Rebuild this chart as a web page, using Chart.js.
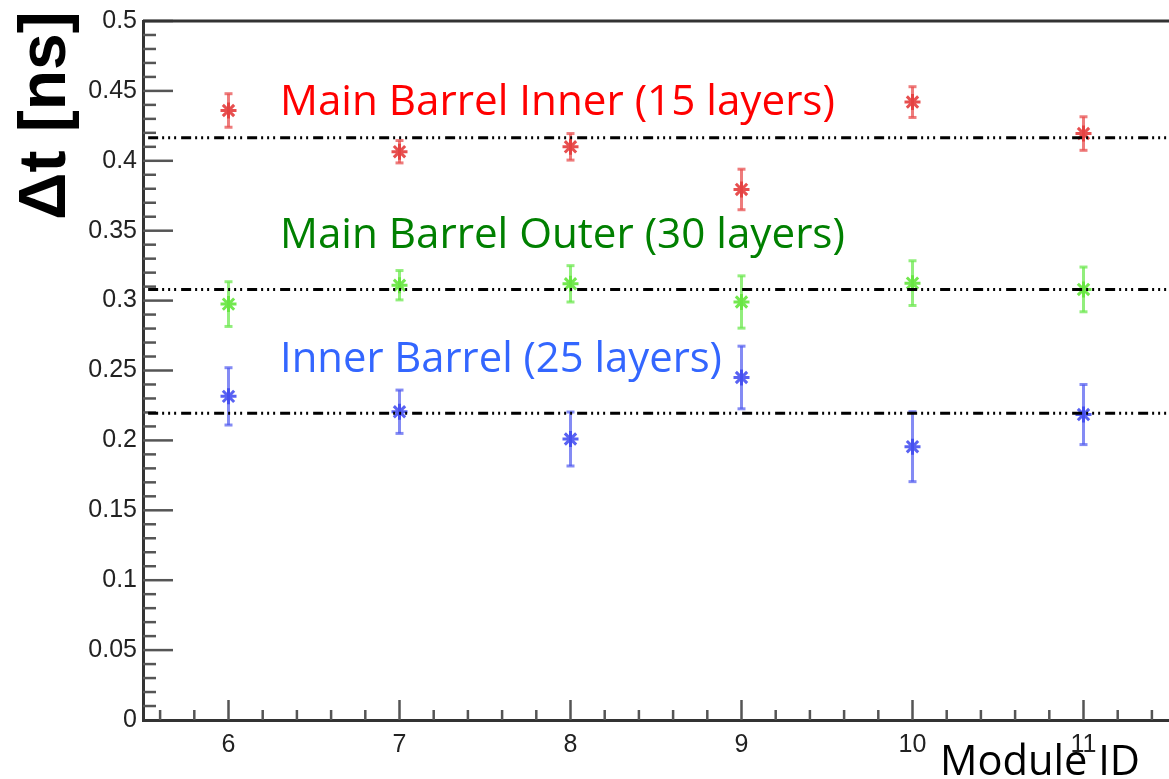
<!DOCTYPE html>
<html>
<head>
<meta charset="utf-8">
<script src="https://cdn.jsdelivr.net/npm/chart.js@4.4.1/dist/chart.umd.min.js"></script>
<style>
  html, body { margin: 0; padding: 0; background: #fff; overflow: hidden; }
  #wrap { width: 1169px; height: 779px; position: relative; }
</style>
</head>
<body>
<div id="wrap"><canvas id="chart"></canvas></div>
<script>
// module ids on the x axis
const moduleIds = [6, 7, 8, 9, 10, 11];

// Δt per module [ns] and its error
const mainInner = [0.436, 0.4065, 0.410, 0.3795, 0.442, 0.4195];
const mainInnerErr = [0.012, 0.008, 0.0095, 0.0145, 0.011, 0.012];
const mainOuter = [0.2975, 0.311, 0.312, 0.299, 0.3125, 0.308];
const mainOuterErr = [0.016, 0.0105, 0.013, 0.0187, 0.016, 0.016];
const innerBarrel = [0.2315, 0.2205, 0.201, 0.245, 0.1955, 0.2185];
const innerBarrelErr = [0.0205, 0.0155, 0.0193, 0.0224, 0.025, 0.0215];

// mean values (dash-dot lines)
const meanLines = [0.4165, 0.308, 0.2195];

const xTicks = [6, 7, 8, 9, 10, 11];
const yTicks = [0, 0.05, 0.1, 0.15, 0.2, 0.25, 0.3, 0.35, 0.4, 0.45, 0.5];

const seriesNames = ['Main Barrel Inner (15 layers)', 'Main Barrel Outer (30 layers)', 'Inner Barrel (25 layers)'];

const X_MIN = 5.5, X_MAX = 11.5;

function pts(vals) {
    return moduleIds.map((x, i) => ({ x, y: vals[i] }));
}

function meanLine(v, i) {
    return {
        type: 'line',
        label: 'mean ' + i,
        data: [{ x: X_MIN + 0.03, y: v }, { x: X_MAX, y: v }],
        borderColor: '#000',
        borderWidth: 3,
        borderDash: [10, 4, 2, 4, 2, 4, 2, 5],
        pointRadius: 0,
        fill: false
    };
}

function markers(label, vals, errs, color, barColor) {
    return {
        type: 'scatter',
        label,
        data: pts(vals),
        errors: errs,
        barColor,
        pointStyle: 'star',
        pointRadius: 8,
        pointBorderWidth: 3,
        borderColor: color,
        backgroundColor: color
    };
}

function line(ctx, x1, y1, x2, y2) {
    ctx.beginPath();
    ctx.moveTo(x1, y1);
    ctx.lineTo(x2, y2);
    ctx.stroke();
}

function fitText(ctx, text, family, weight, width) {
    ctx.font = `${weight} 40px "${family}"`;
    const size = 40 * width / ctx.measureText(text).width;
    ctx.font = `${weight} ${size.toFixed(2)}px "${family}"`;
}

const frame = {
    id: 'frame',
    beforeDatasetsDraw(chart) {
        const { ctx, chartArea: a, scales: { x, y } } = chart;
        ctx.save();
        ctx.strokeStyle = '#555';
        ctx.lineWidth = 2.5;
        // inward ticks on y
        for (let k = 1; k <= 50; k++) {
            const py = y.getPixelForValue(k * 0.01);
            line(ctx, a.left, py, a.left + (k % 5 === 0 ? 30 : 13), py);
        }
        // inward ticks on x
        for (let k = 0; k < 30; k++) {
            const v = 5.6 + 0.2 * k;
            const px = x.getPixelForValue(v);
            const major = Math.abs(v - Math.round(v)) < 1e-6;
            line(ctx, px, a.bottom, px, a.bottom - (major ? 20 : 10));
        }
        // top frame
        ctx.strokeStyle = '#333';
        ctx.lineWidth = 3;
        line(ctx, a.left, a.top, a.right, a.top);

        // error bars
        chart.data.datasets.forEach(ds => {
            if (!ds.errors) return;
            ctx.strokeStyle = ds.barColor;
            ctx.lineWidth = 3;
            ds.data.forEach((p, i) => {
                const px = x.getPixelForValue(p.x);
                const lo = y.getPixelForValue(p.y - ds.errors[i]);
                const hi = y.getPixelForValue(p.y + ds.errors[i]);
                line(ctx, px, lo, px, hi);
                line(ctx, px - 4, lo, px + 4, lo);
                line(ctx, px - 4, hi, px + 4, hi);
            });
        });
        ctx.restore();
    },
    afterDraw(chart) {
        const { ctx } = chart;
        ctx.save();
        ctx.textBaseline = 'alphabetic';
        ctx.textAlign = 'left';

        const labelColors = ['#ff0000', '#008000', '#3366ff'];
        const labelPos = [[280, 115, 555], [280, 248, 565], [280, 372, 442]];
        seriesNames.forEach((s, i) => {
            fitText(ctx, s, 'Open Sans', 'normal', labelPos[i][2]);
            ctx.fillStyle = labelColors[i];
            ctx.fillText(s, labelPos[i][0], labelPos[i][1]);
        });

        fitText(ctx, 'Module ID', 'Open Sans', 'normal', 200);
        ctx.fillStyle = '#000';
        ctx.fillText('Module ID', 940, 775);

        // y title
        ctx.translate(65, 220);
        ctx.rotate(-Math.PI / 2);
        ctx.font = 'bold 66px "Liberation Sans"';
        ctx.fillStyle = '#000';
        ctx.fillText('Δt [ns]', 0, 0);
        ctx.restore();
    }
};

new Chart(document.getElementById('chart'), {
    data: {
        datasets: [
            ...meanLines.map(meanLine),
            markers(seriesNames[0], mainInner, mainInnerErr, 'rgba(228,60,60,0.9)', 'rgba(232,80,80,0.75)'),
            markers(seriesNames[1], mainOuter, mainOuterErr, 'rgba(100,230,60,0.9)', 'rgba(110,232,80,0.75)'),
            markers(seriesNames[2], innerBarrel, innerBarrelErr, 'rgba(60,70,240,0.85)', 'rgba(80,90,240,0.7)')
        ]
    },
    options: {
        responsive: true,
        maintainAspectRatio: false,
        animation: false,
        layout: { autoPadding: false, padding: { top: 21, right: 0, left: 0, bottom: 0 } },
        plugins: { legend: { display: false }, tooltip: { enabled: false } },
        scales: {
            x: {
                type: 'linear',
                min: X_MIN, max: X_MAX,
                afterBuildTicks: s => { s.ticks = xTicks.map(value => ({ value })); },
                afterFit: s => { s.height = 59; s.paddingLeft = 0; s.paddingRight = 0; },
                grid: { display: false, drawTicks: false },
                border: { display: true, color: '#333', width: 3 },
                ticks: {
                    padding: 10,
                    color: '#222',
                    font: { family: 'Liberation Sans', size: 25 },
                    maxRotation: 0
                }
            },
            y: {
                type: 'linear',
                min: 0, max: 0.5,
                afterBuildTicks: s => { s.ticks = yTicks.map(value => ({ value })); },
                afterFit: s => { s.width = 143; s.paddingTop = 0; s.paddingBottom = 0; },
                grid: { display: false, drawTicks: false },
                border: { display: true, color: '#333', width: 3 },
                ticks: {
                    padding: 6,
                    color: '#222',
                    font: { family: 'Liberation Sans', size: 25 },
                    callback: v => String(+v.toFixed(2))
                }
            }
        }
    },
    plugins: [frame]
});
</script>
</body>
</html>
